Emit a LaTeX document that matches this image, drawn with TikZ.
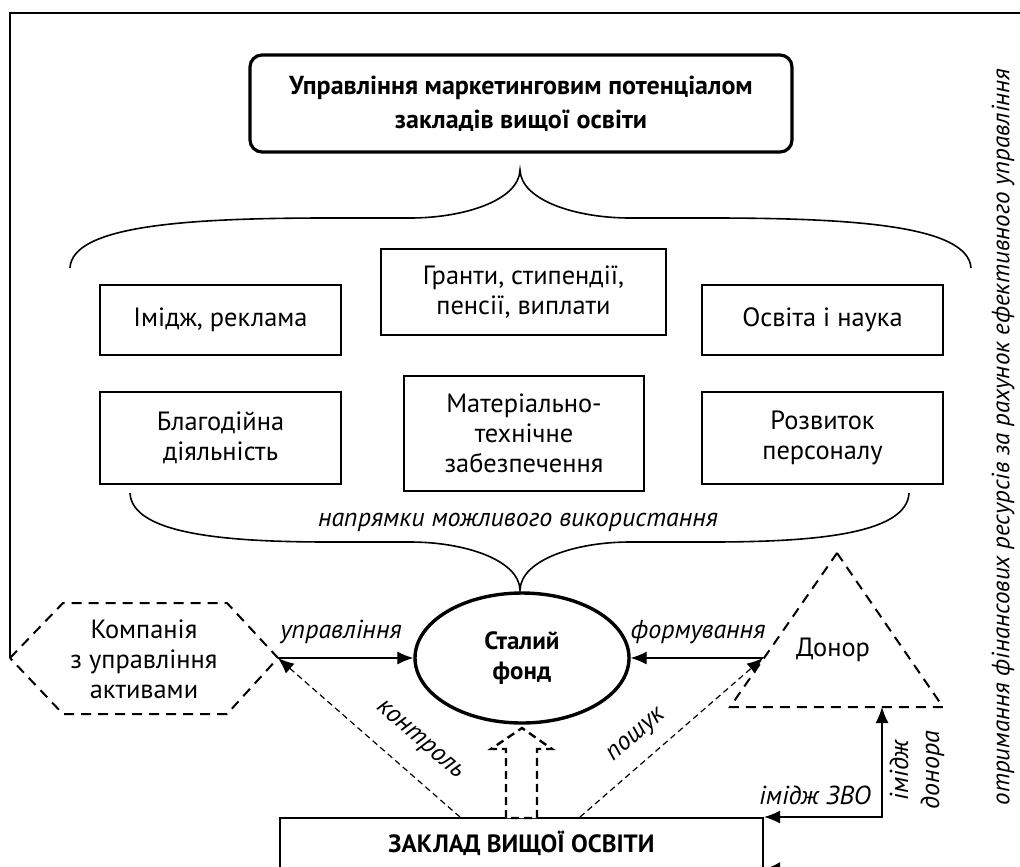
\documentclass[tikz,border=0pt]{standalone}
\usepackage{fontspec}
\setmainfont{PT Sans}
\usetikzlibrary{shapes.geometric,arrows.meta}
\tikzset{
item/.style={draw,line width=1.1pt,align=center,inner sep=0pt},
lbl/.style={font=\fontsize{13}{15.5}\selectfont\itshape},
tip/.style={-{Latex[length=8pt,width=6.5pt]}},
conn/.style={line width=.6pt,tip},
dconn/.style={conn,dash pattern=on 3pt off 2pt},
dshape/.style={line width=1pt,dash pattern=on 5pt off 3.5pt},
brace/.style={line width=.8pt}
}
\begin{document}
\begin{tikzpicture}[x=.5pt,y=-.5pt,font=\fontsize{13.2}{15}\selectfont]
\useasboundingbox(0,0)rectangle(1020,866);
\node[item,line width=1.6pt,rounded corners=6pt,minimum width=271pt,minimum height=48.5pt,font=\fontsize{13}{17}\selectfont\bfseries](title)at(521,103.5){Управління маркетинговим потенціалом\\закладів вищої освіти};
\draw[brace](70,268)..controls(72,225)and(190,218)..(330,218)--(410,218)..controls(465,218)and(519,200)..(520,170)..controls(521,200)and(575,218)..(630,218)--(710,218)..controls(850,218)and(968,225)..(971,268);

\node[item,minimum width=120.5pt,minimum height=35pt](img)at(220.5,320){Імідж, реклама};
\node[item,minimum width=142.5pt,minimum height=43pt](grant)at(523.5,292){Гранти, стипендії,\\пенсії, виплати};
\node[item,minimum width=120.5pt,minimum height=35pt](osv)at(822.5,320){Освіта і наука};
\node[item,minimum width=120.5pt,minimum height=46pt](blag)at(220.5,438){Благодійна\\діяльність};
\node[item,minimum width=120pt,minimum height=57.5pt](mat)at(524,433.5){Матеріально-\\технічне\\забезпечення};
\node[item,minimum width=120.5pt,minimum height=46pt](rozv)at(822.5,438){Розвиток\\персоналу};

\draw[brace](130,493)..controls(132,535)and(230,542)..(330,542)--(410,542)..controls(465,542)and(519,560)..(520,590)..controls(521,560)and(575,542)..(630,542)--(710,542)..controls(810,542)and(907,535)..(909,493);
\node[lbl](napr)at(518,522){напрямки можливого використання};

\node[ellipse,draw,line width=1.7pt,minimum width=107pt,minimum height=65pt,inner sep=0pt,align=center,font=\fontsize{12.5}{15}\selectfont\bfseries](fund)at(522,658){Сталий\\фонд};

\draw[dshape](10,658)coordinate(hw)--(63,603)--(227,603)--(278,658)coordinate(he)--(227,714)--(63,714)--cycle;
\node[align=center](komp)at(144,659){Компанія\\з управління\\активами};
\draw[dshape](837,553)--(943,707)--(730,707)--cycle;
\coordinate(dl)at(763,658);\coordinate(db)at(882,707);
\node(donor)at(833,650){Донор};

\node[item,anchor=north,minimum width=241.5pt,text height=9pt,text depth=30pt,inner ysep=8pt,font=\fontsize{12.5}{15}\selectfont\bfseries](zvo)at(521.5,817){ЗАКЛАД ВИЩОЇ ОСВІТИ};
\draw[line width=1.2pt,dash pattern=on 4pt off 2.5pt,fill=white](506,818)--(506,749)--(491,749)--(522,728)--(552,749)--(537,749)--(537,818)--cycle;

\coordinate(kt)at(460,817);\coordinate(pt)at(580,817);\coordinate(fe)at(764,869);
\draw[conn](he)--(fund.west);
\draw[conn](dl)--(fund.east);
\draw[dconn](kt)--(he);
\draw[dconn](pt)--(dl);
\draw[conn,{Latex[length=8pt,width=6.5pt]}-{Latex[length=8pt,width=6.5pt]}](zvo.north east)--(882,817)--(db);
\draw[conn,line width=1.1pt,-{Latex[length=8pt,width=7pt]}](hw)--(10,13)--(1040,13)--(1040,869)--(fe);

\node[lbl](upr)at(341,632){управління};
\node[lbl](form)at(698,632){формування};
\node[lbl,rotate=-41](kontr)at(419,741){контроль};
\node[lbl,rotate=41](poshuk)at(637,736){пошук};
\node[lbl](imzvo)at(815,795){імідж ЗВО};
\node[lbl,rotate=90,align=center](imdon)at(917,770){імідж\\донора};
\node[lbl,font=\fontsize{12.5}{15}\selectfont\itshape,rotate=90](otr)at(1003,437){отримання фінансових ресурсів за рахунок ефективного управління};
\end{tikzpicture}
\end{document}
